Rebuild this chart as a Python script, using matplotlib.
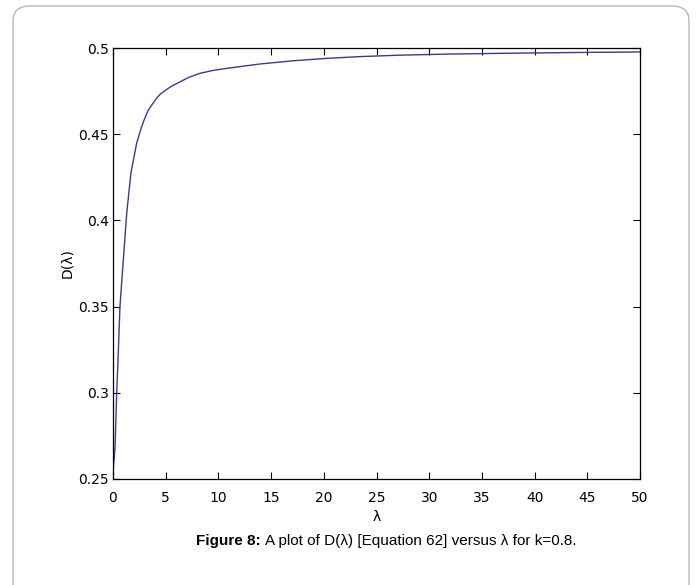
import matplotlib
matplotlib.use("Agg")
import matplotlib.pyplot as plt
from matplotlib.patches import FancyBboxPatch
import numpy as np

# values
lam = [0.02, 0.2, 0.35, 0.5, 0.66, 1.0, 1.3, 1.7, 2.25, 2.7, 3.0, 3.35, 3.8,
       4.15, 4.5, 5.0, 5.6, 6.4, 7.2, 8.25, 9.5, 10.8, 13.9, 17.1, 20.3, 23.4,
       27, 32, 38, 44, 50]
D = [0.255, 0.269, 0.300, 0.323, 0.350, 0.379, 0.404, 0.4275, 0.445, 0.454,
     0.459, 0.464, 0.468, 0.471, 0.4733, 0.4756, 0.478, 0.4805, 0.483,
     0.4853, 0.487, 0.4882, 0.4907, 0.4926, 0.494, 0.495, 0.4958, 0.4965,
     0.497, 0.4974, 0.4977]

xticks = [0, 5, 10, 15, 20, 25, 30, 35, 40, 45, 50]
yticks = [0.25, 0.3, 0.35, 0.4, 0.45, 0.5]
ytick_labels = ["0.25", "0.3", "0.35", "0.4", "0.45", "0.5"]

W, H = 697, 585
fig = plt.figure(figsize=(W / 100, H / 100), dpi=100)

# outer rounded frame
frame = FancyBboxPatch((13 / W, (H - 640) / H), 676 / W, 634 / H,
                       boxstyle="round,pad=0,rounding_size=0.025",
                       transform=fig.transFigure, facecolor="none",
                       edgecolor="#b8b8b8", linewidth=1.0, zorder=-1)
fig.patches.append(frame)

ax = fig.add_axes([113 / W, 1 - 479 / H, (640 - 113) / W, (479 - 48) / H])
ax.plot(lam, D, color="#3a3a8e", linewidth=1.0)

ax.set_xlim(0, 50)
ax.set_ylim(0.25, 0.5)
ax.set_xticks(xticks)
ax.set_xticklabels([str(t) for t in xticks])
ax.set_yticks(yticks)
ax.set_yticklabels(ytick_labels)
ax.tick_params(direction="in", length=5, width=0.8, top=True, right=True,
               labelsize=10, colors="black")
ax.tick_params(axis="x", pad=9)
ax.tick_params(axis="y", pad=3)
for s in ax.spines.values():
    s.set_linewidth(0.9)

ax.set_xlabel("λ", fontsize=10, labelpad=3)
ax.set_ylabel("D(λ)", fontsize=10, labelpad=3)

t1 = fig.text(196 / W, 1 - 541 / H, "Figure 8:", fontsize=11,
              fontweight="bold", family="Liberation Sans", va="center")
fig.canvas.draw()
bb = t1.get_window_extent()
fig.text(bb.x1 / W + 4 / W, 1 - 541 / H,
         "A plot of D(λ) [Equation 62] versus λ for k=0.8.", fontsize=11,
         family="Liberation Sans", va="center")

fig.savefig("out.png", dpi=100)
